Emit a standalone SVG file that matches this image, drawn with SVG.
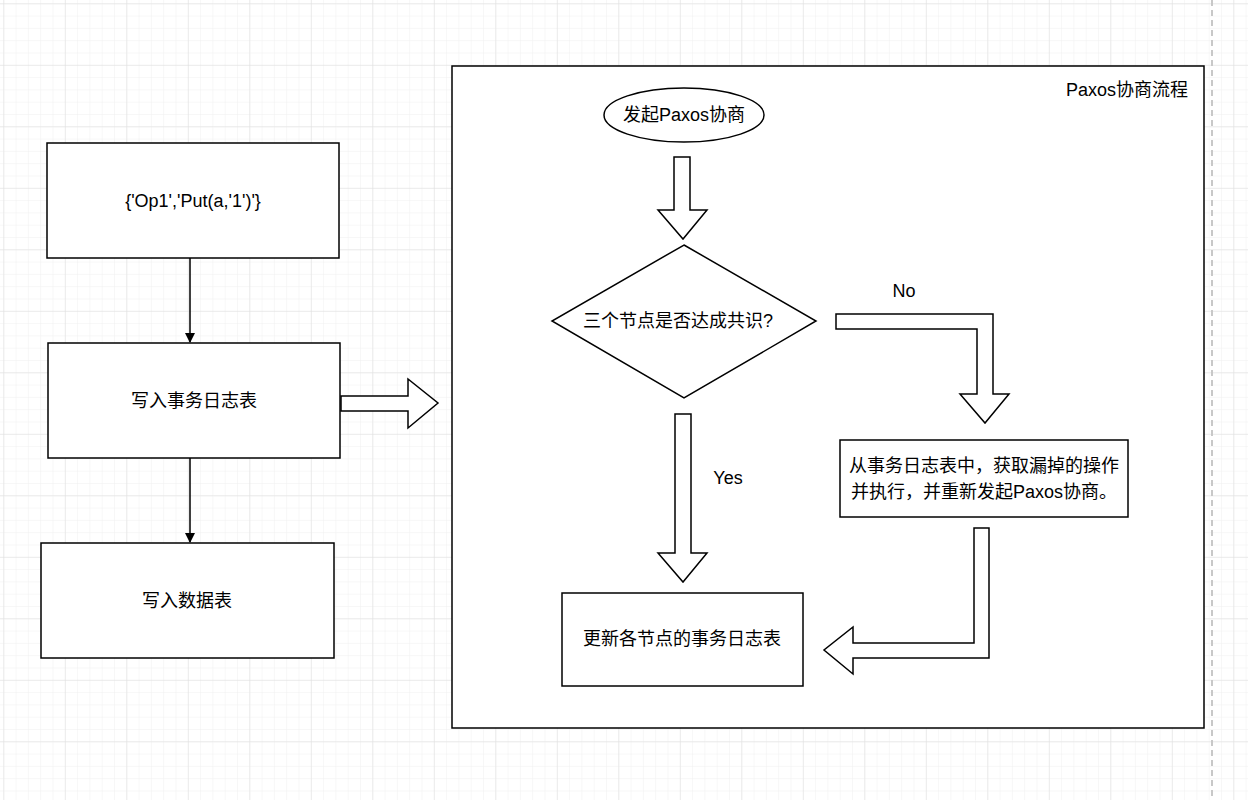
<svg xmlns="http://www.w3.org/2000/svg" width="1248" height="800" viewBox="0 0 1248 800">
<defs>
<pattern id="minor" patternUnits="userSpaceOnUse" x="3.3" y="3.3" width="12.3" height="12.3">
<path d="M0 0H12.3M0 0V12.3" fill="none" stroke="#f0f0f0" stroke-width="1"/>
</pattern>
<pattern id="major" patternUnits="userSpaceOnUse" x="3.3" y="3.3" width="61.5" height="61.5">
<path d="M0 0H61.5M0 0V61.5" fill="none" stroke="#dedede" stroke-width="1"/>
</pattern>
<marker id="ah" viewBox="0 0 10 10" refX="9" refY="5" markerWidth="10" markerHeight="10" markerUnits="userSpaceOnUse" orient="auto">
<path d="M0 0L10 5L0 10Z" fill="#000"/>
</marker>
</defs>
<style>
.box{fill:#fff;stroke:#000;stroke-width:1.5}
.blk{fill:#fff;stroke:#000;stroke-width:1.5;stroke-linejoin:miter}
.ln{fill:none;stroke:#000;stroke-width:1.5}
.t{font-family:"Liberation Sans","Noto Sans CJK SC",sans-serif;font-size:18px;fill:#000;text-anchor:middle;dominant-baseline:central}
</style>
<rect width="1248" height="800" fill="#fff"/>
<rect width="1248" height="800" fill="url(#minor)"/>
<rect width="1248" height="800" fill="url(#major)"/>
<line x1="1212" y1="0" x2="1212" y2="800" stroke="#c8c8c8" stroke-width="2" stroke-dasharray="6 4"/>

<g id="container">
<rect class="box" x="452" y="66" width="752" height="662"/>
<text class="t" x="1188" y="90" style="text-anchor:end">Paxos协商流程</text>
</g>

<g id="op1">
<rect class="box" x="47" y="143" width="292" height="115"/>
<text class="t" x="193" y="201">{'Op1','Put(a,'1')'}</text>
</g>
<g id="writelog">
<rect class="box" x="48" y="343" width="292" height="115"/>
<text class="t" x="194" y="401">写入事务日志表</text>
</g>
<g id="writedata">
<rect class="box" x="41" y="543" width="293" height="115"/>
<text class="t" x="187" y="601">写入数据表</text>
</g>

<g id="start">
<ellipse class="box" cx="684" cy="115" rx="80" ry="27"/>
<text class="t" x="684" y="115">发起Paxos协商</text>
</g>
<g id="decision">
<polygon class="box" points="684,245 816,321 684,398 552,321"/>
<text class="t" x="678" y="321">三个节点是否达成共识?</text>
</g>
<g id="retry">
<rect class="box" x="840" y="440" width="288" height="77"/>
<text class="t" x="984" y="466">从事务日志表中，获取漏掉的操作</text>
<text class="t" x="984" y="492">并执行，并重新发起Paxos协商。</text>
</g>
<g id="update">
<rect class="box" x="562" y="593" width="241" height="93"/>
<text class="t" x="682" y="639">更新各节点的事务日志表</text>
</g>

<g id="connectors">
<line class="ln" x1="190" y1="258" x2="190" y2="342" marker-end="url(#ah)"/>
<line class="ln" x1="190" y1="458" x2="190" y2="542" marker-end="url(#ah)"/>
<polygon class="blk" points="341,396 408,396 408,379 438,403 408,428 408,411 341,411"/>
<polygon class="blk" points="674,157 690,157 690,210 707,210 683,239 658,210 674,210"/>
<polygon class="blk" points="836,314 993,314 993,394 1009,394 985,423 960,394 977,394 977,329 836,329"/>
<polygon class="blk" points="675,414 691,414 691,553 707,553 683,582 658,553 675,553"/>
<polygon class="blk" points="974,528 989,528 989,658 853,658 853,674 824,650 853,627 853,643 974,643"/>
<text class="t" x="904" y="291">No</text>
<text class="t" x="728" y="478">Yes</text>
</g>
</svg>
